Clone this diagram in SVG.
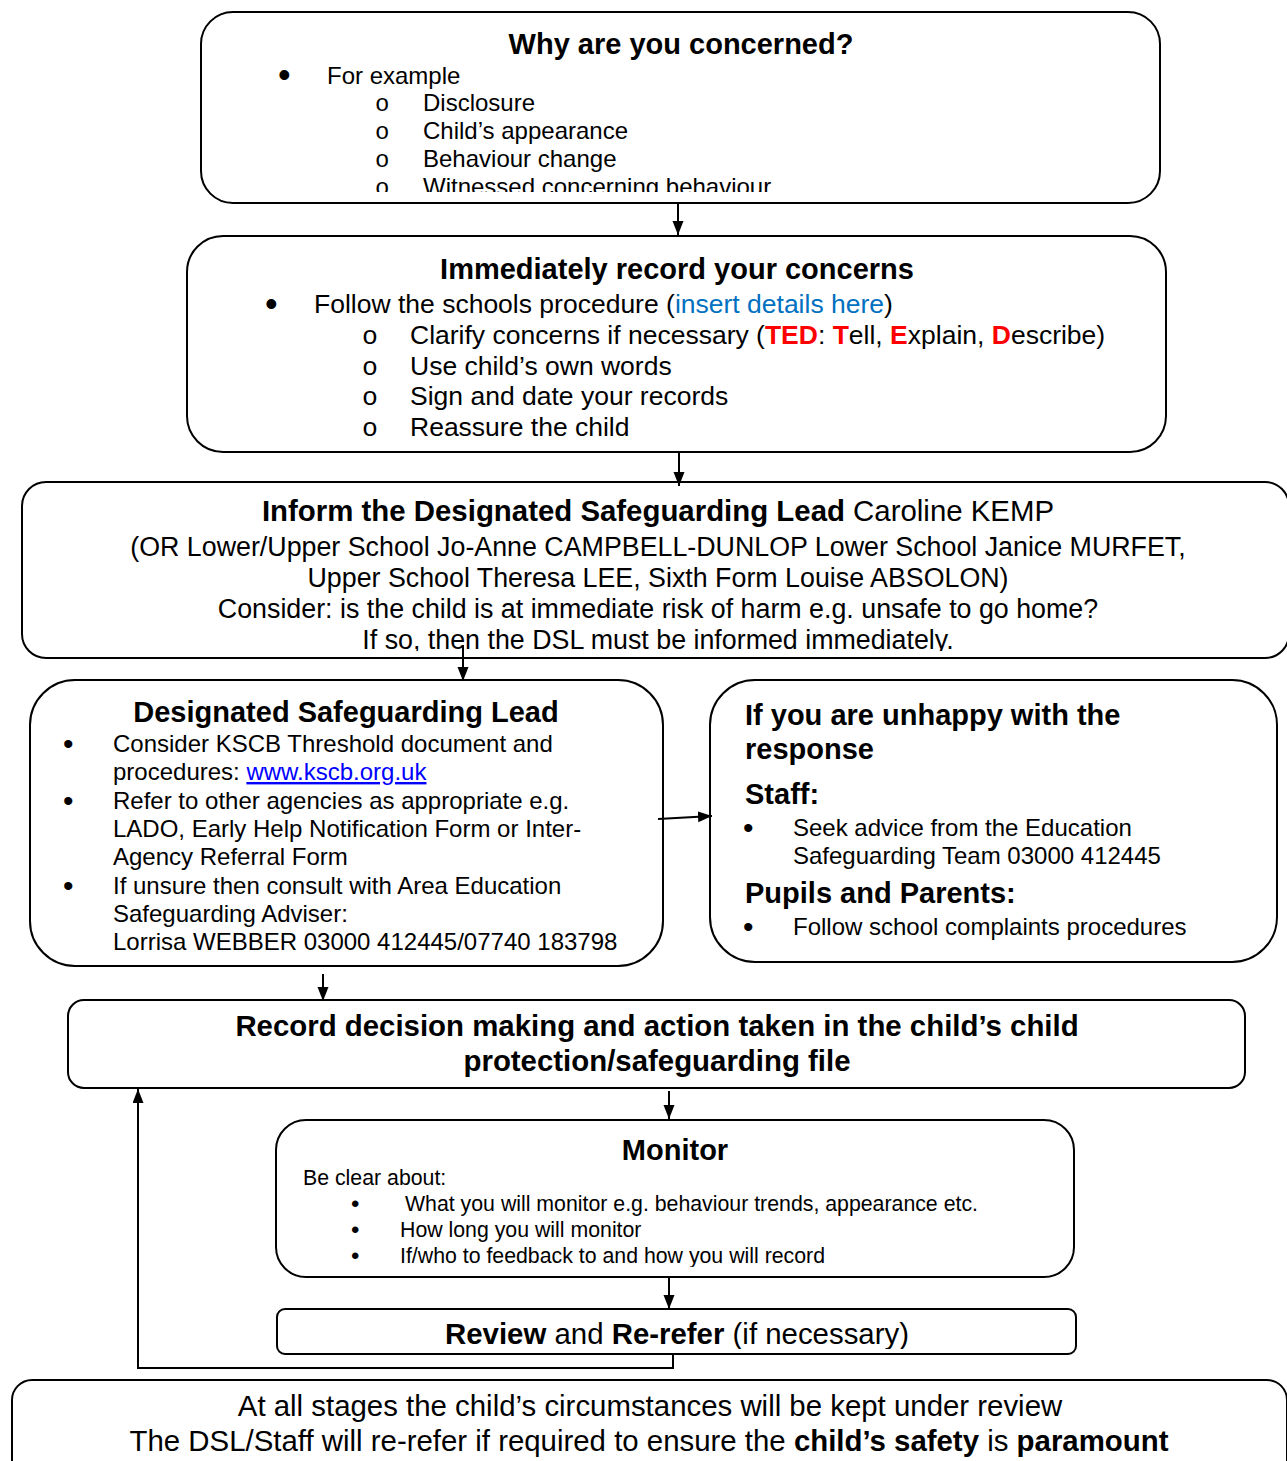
<svg xmlns="http://www.w3.org/2000/svg" width="1287" height="1461" viewBox="0 0 1287 1461">
<style>
text{font-family:"Liberation Sans",Arial,sans-serif;fill:#000}
.box{fill:#fff;stroke:#000;stroke-width:2}
.h{font-weight:bold;font-size:29px}
.h2{font-weight:bold;font-size:29.4px}
.b24{font-size:24px}
.b26{font-size:26.5px}
.b27{font-size:26.8px}
.b29{font-size:29.4px}
.b21{font-size:21.3px}
.bu{font-size:36px}
.bus{font-size:30px}
.bum{font-size:24px}
.sub{font-family:"Liberation Mono","Courier New",monospace}
.c{text-anchor:middle}
.bold{font-weight:bold}
.red{fill:#FF0000;font-weight:bold}
.con{fill:none;stroke:#000;stroke-width:2}
</style>
<defs>
<marker id="ah" markerUnits="userSpaceOnUse" markerWidth="15" markerHeight="12" refX="14" refY="5.5" orient="auto">
<path d="M0,0 L14,5.5 L0,11 z" fill="#000"/>
</marker>
<clipPath id="c1"><rect x="201" y="12" width="960" height="180"/></clipPath>
<clipPath id="c3"><rect x="22" y="482" width="1267" height="169"/></clipPath>
<clipPath id="c7"><rect x="276" y="1120" width="800" height="147"/></clipPath>
<clipPath id="c8"><rect x="277" y="1309" width="800" height="40"/></clipPath>
</defs>

<g id="n1">
<rect class="box" x="201" y="12" width="959" height="191" rx="32"/>
<text class="h c" x="681" y="54">Why are you concerned?</text>
<g clip-path="url(#c1)">
<text class="bu" x="278" y="87">•</text>
<text class="b24" x="327" y="84">For example</text>
<text class="b24 sub" x="375" y="111">o</text>
<text class="b24" x="423" y="111">Disclosure</text>
<text class="b24 sub" x="375" y="139">o</text>
<text class="b24" x="423" y="139">Child’s appearance</text>
<text class="b24 sub" x="375" y="167">o</text>
<text class="b24" x="423" y="167">Behaviour change</text>
<text class="b24 sub" x="375" y="195">o</text>
<text class="b24" x="423" y="195">Witnessed concerning behaviour</text>
</g>
</g>

<g id="n2">
<rect class="box" x="187" y="236" width="979" height="216" rx="36"/>
<text class="h c" x="677" y="279">Immediately record your concerns</text>
<text class="bu" x="265" y="316">•</text>
<text class="b26" x="314" y="313">Follow the schools procedure (<tspan fill="#0070C0">insert details here</tspan>)</text>
<text class="b26 sub" x="362" y="344">o</text>
<text class="b26" x="410" y="344">Clarify concerns if necessary (<tspan class="red">TED</tspan>: <tspan class="red">T</tspan>ell, <tspan class="red">E</tspan>xplain, <tspan class="red">D</tspan>escribe)</text>
<text class="b26 sub" x="362" y="375">o</text>
<text class="b26" x="410" y="375">Use child’s own words</text>
<text class="b26 sub" x="362" y="405">o</text>
<text class="b26" x="410" y="405">Sign and date your records</text>
<text class="b26 sub" x="362" y="436">o</text>
<text class="b26" x="410" y="436">Reassure the child</text>
</g>

<g id="n3">
<rect class="box" x="22" y="482" width="1267" height="176" rx="24"/>
<g clip-path="url(#c3)">
<text class="b29 c" x="658" y="521"><tspan class="bold">Inform the Designated Safeguarding Lead</tspan> Caroline KEMP</text>
<text class="b27 c" x="658" y="556">(OR Lower/Upper School Jo-Anne CAMPBELL-DUNLOP Lower School Janice MURFET,</text>
<text class="b27 c" x="658" y="587">Upper School Theresa LEE, Sixth Form Louise ABSOLON)</text>
<text class="b27 c" x="658" y="618">Consider: is the child is at immediate risk of harm e.g. unsafe to go home?</text>
<text class="b27 c" x="658" y="649">If so, then the DSL must be informed immediately.</text>
</g>
</g>

<g id="n4">
<rect class="box" x="30" y="680" width="633" height="286" rx="45"/>
<text class="h c" x="346" y="722">Designated Safeguarding Lead</text>
<text class="bus" x="63" y="754">•</text>
<text class="b24" x="113" y="752">Consider KSCB Threshold document and</text>
<text class="b24" x="113" y="780">procedures: <tspan fill="#0000FF" text-decoration="underline">www.kscb.org.uk</tspan></text>
<text class="bus" x="63" y="811">•</text>
<text class="b24" x="113" y="809">Refer to other agencies as appropriate e.g.</text>
<text class="b24" x="113" y="837">LADO, Early Help Notification Form or Inter-</text>
<text class="b24" x="113" y="865">Agency Referral Form</text>
<text class="bus" x="63" y="896">•</text>
<text class="b24" x="113" y="894">If unsure then consult with Area Education</text>
<text class="b24" x="113" y="922">Safeguarding Adviser:</text>
<text class="b24" x="113" y="950">Lorrisa WEBBER 03000 412445/07740 183798</text>
</g>

<g id="n5">
<rect class="box" x="710" y="680" width="567" height="282" rx="45"/>
<text class="h" x="745" y="725">If you are unhappy with the</text>
<text class="h" x="745" y="759">response</text>
<text class="h" x="745" y="804">Staff:</text>
<text class="bus" x="743" y="838">•</text>
<text class="b24" x="793" y="836">Seek advice from the Education</text>
<text class="b24" x="793" y="864">Safeguarding Team 03000 412445</text>
<text class="h" x="745" y="903">Pupils and Parents:</text>
<text class="bus" x="743" y="937">•</text>
<text class="b24" x="793" y="935">Follow school complaints procedures</text>
</g>

<g id="n6">
<rect class="box" x="68" y="1000" width="1177" height="88" rx="16"/>
<text class="h2 c" x="657" y="1036">Record decision making and action taken in the child’s child</text>
<text class="h2 c" x="657" y="1071">protection/safeguarding file</text>
</g>

<g id="n7">
<rect class="box" x="276" y="1120" width="798" height="157" rx="30"/>
<text class="h c" x="675" y="1160">Monitor</text>
<text class="b21" x="303" y="1185">Be clear about:</text>
<g clip-path="url(#c7)">
<text class="bum" x="351" y="1212">•</text>
<text class="b21" x="405" y="1211">What you will monitor e.g. behaviour trends, appearance etc.</text>
<text class="bum" x="351" y="1238">•</text>
<text class="b21" x="400" y="1237">How long you will monitor</text>
<text class="bum" x="351" y="1264">•</text>
<text class="b21" x="400" y="1263">If/who to feedback to and how you will record</text>
</g>
</g>

<g id="n8">
<rect class="box" x="277" y="1309" width="799" height="45" rx="8"/>
<g clip-path="url(#c8)">
<text class="b29 c" x="677" y="1344"><tspan class="bold">Review</tspan> and <tspan class="bold">Re-refer</tspan> (if necessary)</text>
</g>
</g>

<g id="n9">
<rect class="box" x="12" y="1380" width="1275" height="100" rx="20"/>
<text class="b29 c" x="650" y="1416">At all stages the child’s circumstances will be kept under review</text>
<text class="b29 c" x="649" y="1451">The DSL/Staff will re-refer if required to ensure the <tspan class="bold">child’s safety</tspan> is <tspan class="bold">paramount</tspan></text>
</g>

<g id="connectors">
<line class="con" x1="678" y1="203" x2="678" y2="235" marker-end="url(#ah)"/>
<line class="con" x1="679" y1="453" x2="679" y2="486" marker-end="url(#ah)"/>
<line class="con" x1="463" y1="645" x2="463" y2="681" marker-end="url(#ah)"/>
<line class="con" x1="658" y1="819" x2="712" y2="816" marker-end="url(#ah)"/>
<line class="con" x1="323" y1="974" x2="323" y2="1001" marker-end="url(#ah)"/>
<line class="con" x1="669" y1="1091" x2="669" y2="1119" marker-end="url(#ah)"/>
<line class="con" x1="669" y1="1278" x2="669" y2="1309" marker-end="url(#ah)"/>
<polyline class="con" points="673,1355 673,1368 138,1368 138,1089" marker-end="url(#ah)"/>
</g>
</svg>
